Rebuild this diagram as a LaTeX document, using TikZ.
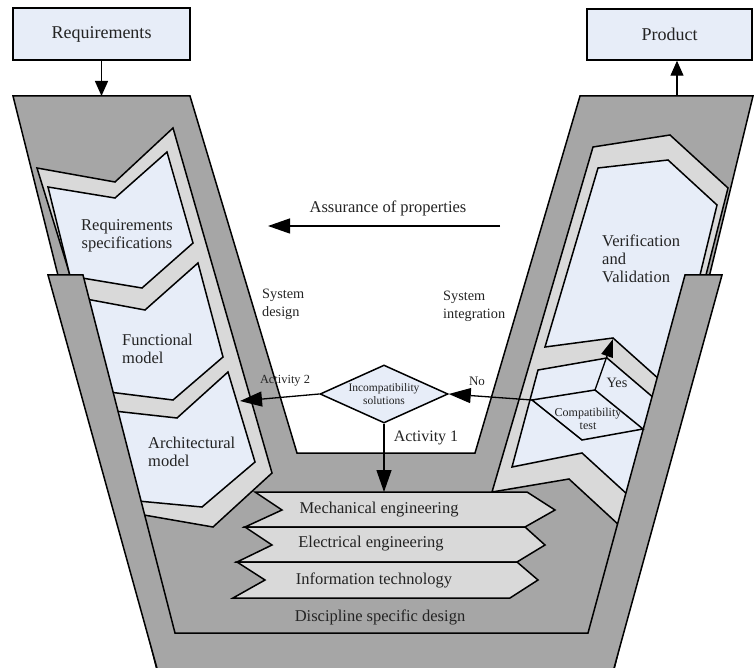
\documentclass[tikz,border=0pt]{standalone}
\usepackage{fontspec}
\setmainfont{Liberation Serif}
\usetikzlibrary{arrows.meta,shapes.geometric}
\definecolor{vgray}{RGB}{166,166,166}
\definecolor{bandgray}{RGB}{217,217,217}
\definecolor{boxblue}{RGB}{231,237,248}
\definecolor{ink}{RGB}{35,35,35}

\begin{document}
\begin{tikzpicture}[x=1pt,y=-1pt,
		part/.style={draw=black,line width=1.5pt},
		vpart/.style={part,fill=vgray},
		bandpart/.style={part,fill=bandgray},
		boxpart/.style={part,fill=boxblue},
		lblbig/.style={text=ink,inner sep=0pt,align=center,font=\fontsize{16.5}{18}\selectfont},
		lblmid/.style={text=ink,inner sep=0pt,align=left,font=\fontsize{14.3}{18}\selectfont},
		lblsmall/.style={text=ink,inner sep=0pt,align=center,font=\fontsize{12}{13}\selectfont},
		topbox/.style={part,fill=boxblue,text=ink,inner sep=0pt,font=\fontsize{18}{20}\selectfont},
		bigtip/.style={-{Triangle[length=22pt,width=15pt]},line width=1.3pt},
		smalltip/.style={-{Triangle[length=15pt,width=13pt]},line width=1.3pt}]
			\useasboundingbox (0,0) rectangle (755,668);
			\clip (0,0) rectangle (755,668);
			\draw[vpart] (13,96) -- (190,96) -- (297,453) -- (475,453) -- (580,96) -- (753,96) -- (609,690) -- (162,690) -- cycle;
			\draw[bandpart] (37,168) -- (115,182) -- (173,128) -- (272,473) -- (213,527) -- (144,515) -- cycle;
			\draw[boxpart] (48,187) -- (115,198) -- (167,152) -- (193,243) -- (142,288) -- (70,276) -- cycle;
			\draw[boxpart] (86,299) -- (145,310) -- (198,263) -- (223,357) -- (173,400) -- (109,392) -- cycle;
			\draw[boxpart] (114,411) -- (177,418) -- (228,372) -- (255,462) -- (202,507) -- (138,501) -- cycle;
			\draw[bandpart] (593,147) -- (670,135) -- (728,188) -- (706,275) -- (620,526) -- (569,479) -- (492,492) -- cycle;
			\draw[boxpart] (598,168) -- (668,160) -- (717,205) -- (700,275) -- (660,380) -- (613,338) -- (545,347) -- cycle;
			\draw[boxpart] (538,370) -- (607,358) -- (655,399) -- (628,495) -- (582,453) -- (512,467) -- cycle;
			\fill[vgray] (48,275) -- (83,275) -- (175,633) -- (175,690) -- (163,690) -- cycle;
			\fill[vgray] (722,275) -- (685,275) -- (588,633) -- (588,690) -- (608,690) -- cycle;
			\draw[part] (163,690) -- (48,275) -- (83,275) -- (175,633) -- (588,633) -- (685,275) -- (722,275) -- (608,690);
			\draw[bandpart] (255,492) -- (527,492) -- (555,510) -- (525,527) -- (245,527) -- (282,510) -- cycle;
			\draw[bandpart] (245,527) -- (525,527) -- (545,545) -- (517,562) -- (237,562) -- (272,545) -- cycle;
			\draw[bandpart] (237,562) -- (517,562) -- (538,580) -- (510,598) -- (233,598) -- (265,580) -- cycle;
			\node[topbox,minimum width=177pt,minimum height=52pt] (req) at (101.5,34) {Requirements};
			\node[topbox,minimum width=165pt,minimum height=51pt] (prod) at (669.5,34.5) {Product};
			\coordinate (reqin) at (101.5,96);
			\coordinate (prodout) at (677,96);
			\draw[smalltip] (req) -- (reqin);
			\draw[smalltip] (prodout) -- (prodout |- prod.south);
			\node[lblbig] (assur) at (388,208) {Assurance of properties};
			\coordinate (asr) at (500,226);
			\coordinate (asl) at (268,226);
			\draw[bigtip] (asr) -- (asl);
			\node[lblbig] (rspec) at (127,236) {Requirements\\specifications};
			\node[lblbig,anchor=west,align=left] (func) at (122,349) {Functional\\model};
			\node[lblbig,anchor=west,align=left] (arch) at (148,452) {Architectural\\model};
			\node[lblbig,anchor=west,align=left] (vv) at (602,259) {Verification\\and\\Validation};
			\node[lblmid,anchor=west] (sdes) at (262,304) {System\\design};
			\node[lblmid,anchor=west] (sint) at (443,306) {System\\integration};
			\node[lblsmall,font=\fontsize{12.4}{14}\selectfont] (act2) at (285,381) {Activity 2};
			\node[lblsmall,font=\fontsize{13}{14}\selectfont] (no) at (477,381) {No};
			\node[lblbig,font=\fontsize{16}{18}\selectfont] (act1) at (426,438) {Activity 1};
			\node[lblmid] (yes) at (617,383) {Yes};
			\node[diamond,part,fill=boxblue,aspect=2.2,minimum width=128pt,minimum height=58pt,inner sep=0pt,text=ink,align=center,font=\fontsize{11.5}{13}\selectfont] (incomp) at (384,394) {Incompatibility\\solutions};
			\coordinate (ctl) at (532,400);
			\coordinate (ctt) at (595,390);
			\coordinate (ctr) at (643,429);
			\coordinate (ctb) at (582,440);
			\draw[part] (ctl) -- (ctt) -- (ctr) -- (ctb) -- cycle;
			\node[lblsmall] (ctxt) at (588,419) {Compatibility\\test};
			\coordinate (vvpeak) at (613,339);
			\coordinate (archtip) at (240,401);
			\coordinate (disctop) at (384,492);
			\draw[bigtip] (ctl) -- (incomp.east);
			\draw[-{Triangle[length=18pt,width=12pt]},line width=1.3pt] (ctt) -- (vvpeak);
			\draw[bigtip] (incomp.west) -- (archtip);
			\draw[bigtip] (incomp.south) -- (disctop);
			\node[lblbig] (mech) at (379,510) {Mechanical engineering};
			\node[lblbig] (elec) at (371,544) {Electrical engineering};
			\node[lblbig] (info) at (374,580) {Information technology};
			\node[lblbig] (disc) at (380,617) {Discipline specific design};
		\end{tikzpicture}
\end{document}
